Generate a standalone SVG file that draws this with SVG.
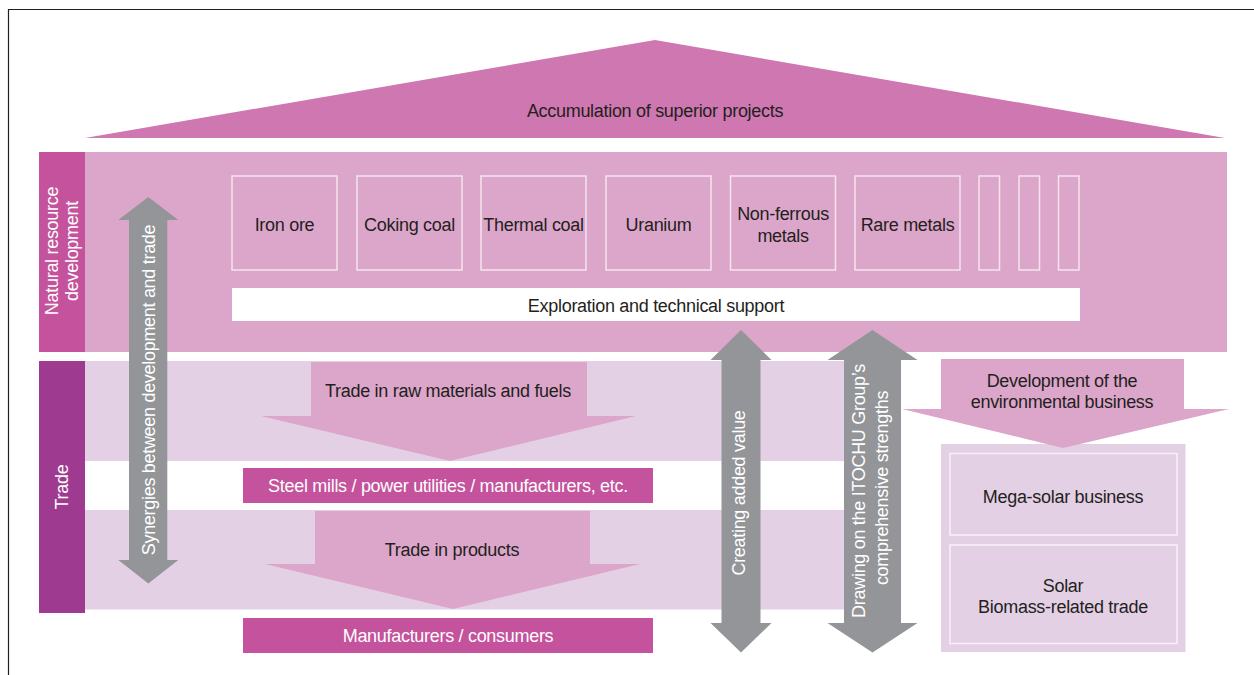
<svg xmlns="http://www.w3.org/2000/svg" width="1254" height="675" viewBox="0 0 1254 675">
<defs>
<style>
text{font-family:"Liberation Sans",Arial,sans-serif;font-size:18px;letter-spacing:-0.3px;text-anchor:middle}
.dk{fill:#231f20}
.wt{fill:#ffffff}
.roof{fill:#cf77b0}
.nat{fill:#dca6ca}
.lav{fill:#e4d0e5}
.lab1{fill:#c4529c}
.lab2{fill:#9e3b91}
.gray{fill:#939598}
.item{fill:none;stroke:#ffffff;stroke-opacity:0.7;stroke-width:1.5}
</style>
</defs>
<rect width="1254" height="675" fill="#ffffff"/>
<path d="M8.5 675 V9.5 H1254" fill="none" stroke="#231f20" stroke-width="1.2"/>

<g id="roof">
<polygon class="roof" points="85,138 655,40 1225,138"/>
<text class="dk" x="655" y="116.5">Accumulation of superior projects</text>
</g>

<g id="natural-resource">
<rect class="nat" x="85" y="152" width="1142" height="200"/>
<rect class="lab1" x="39" y="152" width="46" height="200"/>
<text class="wt" transform="translate(58,251) rotate(-90)">Natural resource</text>
<text class="wt" transform="translate(78,251) rotate(-90)">development</text>
</g>

<g id="trade">
<rect class="lab2" x="39" y="361" width="46" height="252"/>
<rect class="lav" x="85" y="361" width="760" height="100"/>
<rect class="lav" x="85" y="510" width="760" height="99.5"/>
<text class="wt" transform="translate(68,487) rotate(-90)">Trade</text>
</g>

<g id="items">
<g id="iron-ore"><rect class="item" x="232" y="176" width="105" height="94"/><text class="dk" x="284.5" y="230.5">Iron ore</text></g>
<g id="coking-coal"><rect class="item" x="357" y="176" width="105" height="94"/><text class="dk" x="409.5" y="230.5">Coking coal</text></g>
<g id="thermal-coal"><rect class="item" x="481" y="176" width="105" height="94"/><text class="dk" x="533.5" y="230.5">Thermal coal</text></g>
<g id="uranium"><rect class="item" x="606" y="176" width="105" height="94"/><text class="dk" x="658.5" y="230.5">Uranium</text></g>
<g id="non-ferrous"><rect class="item" x="730.5" y="176" width="105" height="94"/><text class="dk" x="783" y="220">Non-ferrous</text><text class="dk" x="783" y="242">metals</text></g>
<g id="rare-metals"><rect class="item" x="855" y="176" width="105" height="94"/><text class="dk" x="907.5" y="230.5">Rare metals</text></g>
<g id="more1"><rect class="item" x="979" y="176" width="20.5" height="94"/></g>
<g id="more2"><rect class="item" x="1019" y="176" width="20.5" height="94"/></g>
<g id="more3"><rect class="item" x="1058.5" y="176" width="20.5" height="94"/></g>
</g>

<g id="exploration">
<rect x="232" y="288" width="848" height="33" fill="#ffffff"/>
<text class="dk" x="656" y="312">Exploration and technical support</text>
</g>

<g id="trade-raw">
<polygon class="nat" points="311,362 587,362 587,416 636,416 450,461 261,416 311,416"/>
<text class="dk" x="448" y="397">Trade in raw materials and fuels</text>
</g>

<g id="steel-mills">
<rect class="lab1" x="243" y="468" width="410" height="35"/>
<text class="wt" x="448" y="492">Steel mills / power utilities / manufacturers, etc.</text>
</g>

<g id="trade-products">
<polygon class="nat" points="315,511 590,511 590,564 640,564 453,609 265,564 315,564"/>
<text class="dk" x="452" y="556">Trade in products</text>
</g>

<g id="manufacturers">
<rect class="lab1" x="243" y="618" width="410" height="35"/>
<text class="wt" x="448" y="642">Manufacturers / consumers</text>
</g>

<g id="env-box">
<rect class="lav" x="941" y="444" width="244.5" height="208"/>
<g id="mega-solar"><rect class="item" x="950" y="453.5" width="227" height="81.5"/><text class="dk" x="1063" y="503">Mega-solar business</text></g>
<g id="solar-biomass"><rect class="item" x="950" y="545" width="227" height="98.5"/><text class="dk" x="1063" y="592">Solar</text><text class="dk" x="1063" y="613">Biomass-related trade</text></g>
</g>

<g id="environmental">
<polygon class="nat" points="941,359 1184,359 1184,409 1229,409 1063,448 902,409 941,409"/>
<text class="dk" x="1062" y="387">Development of the</text>
<text class="dk" x="1062" y="408">environmental business</text>
</g>

<g id="connectors">
<g id="synergies">
<polygon class="gray" points="148.3,197 178.3,220 167.3,220 167.3,560 178.3,560 148.3,583.5 118.3,560 129,560 129,220 118.3,220"/>
<text class="wt" transform="translate(154.5,390) rotate(-90)">Synergies between development and trade</text>
</g>
<g id="creating-value">
<polygon class="gray" points="741,330 771.5,360 760.5,360 760.5,623 771.5,623 741,652.5 710.5,623 721.5,623 721.5,360 710.5,360"/>
<text class="wt" transform="translate(745,493) rotate(-90)">Creating added value</text>
</g>
<g id="itochu-strengths">
<polygon class="gray" points="872.5,330 917.5,360 901,360 901,623 917.5,623 872.5,652.5 827.5,623 844,623 844,360 827.5,360"/>
<text class="wt" transform="translate(864.5,491) rotate(-90)">Drawing on the ITOCHU Group’s</text>
<text class="wt" transform="translate(888,488) rotate(-90)">comprehensive strengths</text>
</g>
</g>
</svg>
